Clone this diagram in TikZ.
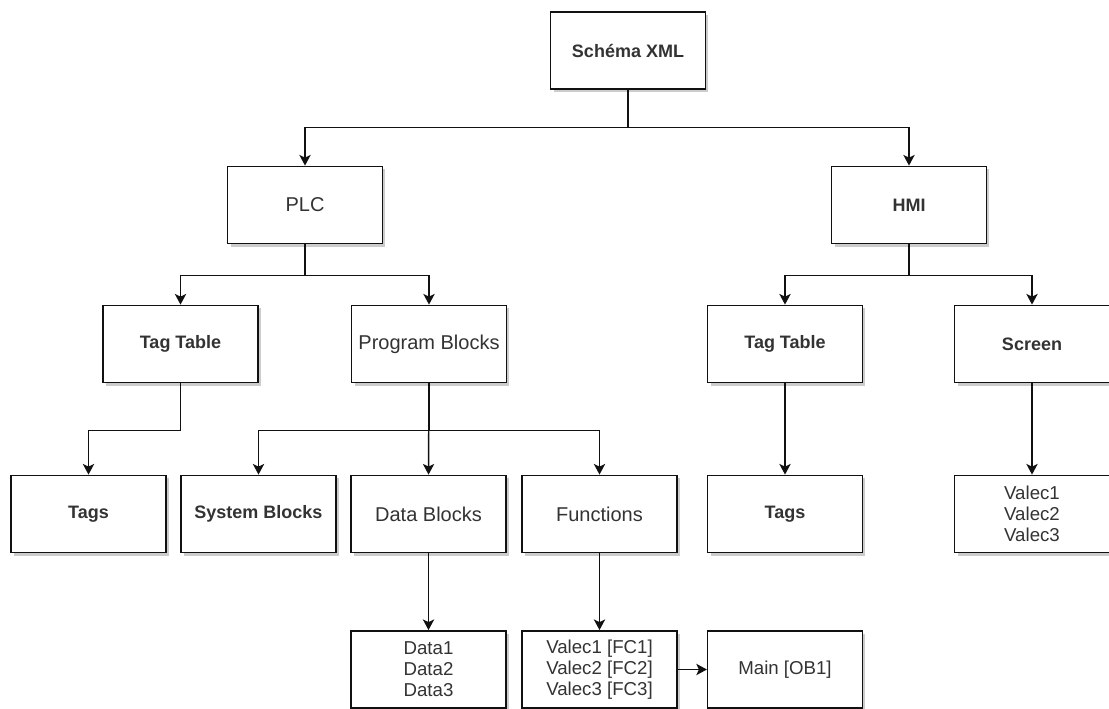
\documentclass[tikz,border=0pt]{standalone}
\usepackage{fontspec}
\setmainfont{Liberation Sans}
\usepackage{xcolor}
\definecolor{ink}{HTML}{333333}
\definecolor{wire}{HTML}{111111}
\definecolor{shade}{HTML}{CCCCCC}
\usepackage{tikz}
\usetikzlibrary{arrows.meta, shadows}
\tikzset{
  >={Stealth[length=8pt, width=8.5pt, inset=2pt]},
  box/.style={draw=wire, fill=white, line width=1.1pt, minimum width=116pt, minimum height=58pt,
    inner sep=0pt, align=center, text=ink, font=\fontsize{15}{17}\selectfont,
    general shadow={fill=shade, shadow xshift=2.3pt, shadow yshift=-2.3pt}},
  head/.style={box, font=\fontsize{13.5}{16}\selectfont\bfseries},
  list/.style={box, font=\fontsize{14}{15.75}\selectfont},
  flow/.style={->, line width=1.1pt, color=wire},
}

\begin{document}
\begin{tikzpicture}[x=0.75pt, y=-0.75pt]
  \useasboundingbox (0,0) rectangle (1109,709);

  % Root and the two stations.
  \node[head] (xml) at (628,50.5) {Schéma XML};
  \node[box]  (plc) at (305,205) {PLC};
  \node[head] (hmi) at (909,205) {HMI};

  % Second level.
  \node[head] (plcTags) at (180.5,344) {Tag Table};
  \node[box]  (prog)    at (429,344) {Program Blocks};
  \node[head] (hmiTags) at (785,344) {Tag Table};
  \node[head] (scr)     at (1032,344) {Screen};

  % Third level.
  \node[head] (tags)    at (88.5,514) {Tags};
  \node[head] (sys)     at (258.5,514) {System Blocks};
  \node[box]  (data)    at (428.5,514) {Data Blocks};
  \node[box]  (func)    at (599.5,514) {Functions};
  \node[head] (hmiTagList) at (785,514) {Tags};
  \node[list] (scrList) at (1032,514) {Valec1\\Valec2\\Valec3};

  % Leaves under the program blocks.
  \node[list] (dataList) at (428.5,669.5) {Data1\\Data2\\Data3};
  \node[list] (funcList) at (599.5,669.5) {Valec1 [FC1]\\Valec2 [FC2]\\Valec3 [FC3]};
  \node[list] (main)     at (785,669.5) {Main [OB1]};

  % Connectors.
  \draw[flow] (xml.south) -- ++(0,37.5) -| (plc.north);
  \draw[flow] (xml.south) -- ++(0,37.5) -| (hmi.north);
  \draw[flow] (plc.south) -- ++(0,31) -| (plcTags.north);
  \draw[flow] (plc.south) -- ++(0,31) -| (prog.north);
  \draw[flow] (hmi.south) -- ++(0,31) -| (hmiTags.north);
  \draw[flow] (hmi.south) -- ++(0,31) -| (scr.north);
  \draw[flow] (plcTags.south) -- ++(0,47) -| (tags.north);
  \draw[flow] (prog.south) -- ++(0,47) -| (sys.north);
  \draw[flow] (prog.south) -- (data.north);
  \draw[flow] (prog.south) -- ++(0,47) -| (func.north);
  \draw[flow] (hmiTags.south) -- (hmiTagList.north);
  \draw[flow] (scr.south) -- (scrList.north);
  \draw[flow] (data.south) -- (dataList.north);
  \draw[flow] (func.south) -- (funcList.north);
  \draw[flow] (funcList.east) -- (main.west);
\end{tikzpicture}
\end{document}
